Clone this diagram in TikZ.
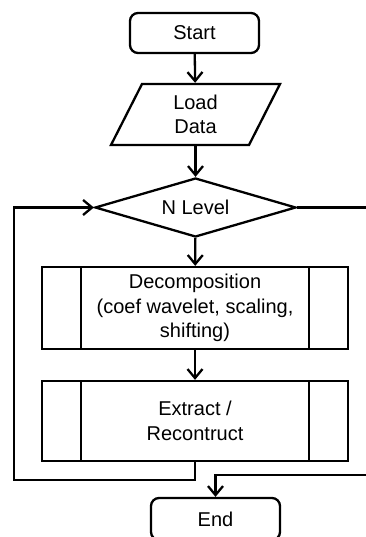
\documentclass[tikz,border=0pt]{standalone}
\usepackage{fontspec}
\setmainfont{Liberation Sans}
\usetikzlibrary{arrows.meta,shapes.geometric}
\begin{document}
\begin{tikzpicture}[x=1pt,y=-1pt,line width=2.3pt,
  font=\fontsize{20pt}{24.5pt}\selectfont,
  arr/.style={-{Straight Barb[length=9pt,width=15pt]}},
  term/.style={draw,rounded corners=8pt,minimum width=129pt,minimum height=40pt,inner sep=0pt},
  proc/.style={draw,minimum width=306pt,inner sep=0pt,align=center,
    path picture={\draw[line width=2.3pt] ([xshift=39pt]path picture bounding box.north west) -- ([xshift=39pt]path picture bounding box.south west)
      ([xshift=-39pt]path picture bounding box.north east) -- ([xshift=-39pt]path picture bounding box.south east);}},
  dec/.style={draw,diamond,shape aspect=3.4,minimum width=201pt,minimum height=59pt,inner sep=0pt}
]
\useasboundingbox (0,0) rectangle (366,537);
\begin{scope}
\clip (0,0) rectangle (366,537);
\node[term] (start) at (194.5,33) {Start};
\node[minimum width=137pt,minimum height=61pt,inner sep=0pt,align=center] (load) at (195.5,114.5) {Load\\Data};
\draw (142,84) -- (280,84) -- (249,145) -- (111,145) -- cycle;
\node[dec] (lvl) at (195.5,207.5) {N Level};
\node[proc,minimum height=82pt] (dcp) at (195,308) {Decomposition\\(coef wavelet, scaling,\\shifting)};
\node[proc,minimum height=80pt] (ext) at (195,421) {Extract /\\Recontruct};
\node[term,minimum height=42pt] (end) at (215.5,519) {End};
\coordinate (lb) at (14,480);
\coordinate (rt) at (367,207.5);
\coordinate (rb) at (367,475);
\draw[arr] (start) -- (load);
\draw[arr] (load) -- (lvl);
\draw[arr] (lvl) -- (dcp);
\draw[arr] (dcp) -- (ext);
\draw[arr] (ext.south) |- (lb) |- (lvl.west);
\draw (lvl.east) -- (rt);
\draw[arr] (rb) -| (end.north);
\end{scope}
\end{tikzpicture}
\end{document}
